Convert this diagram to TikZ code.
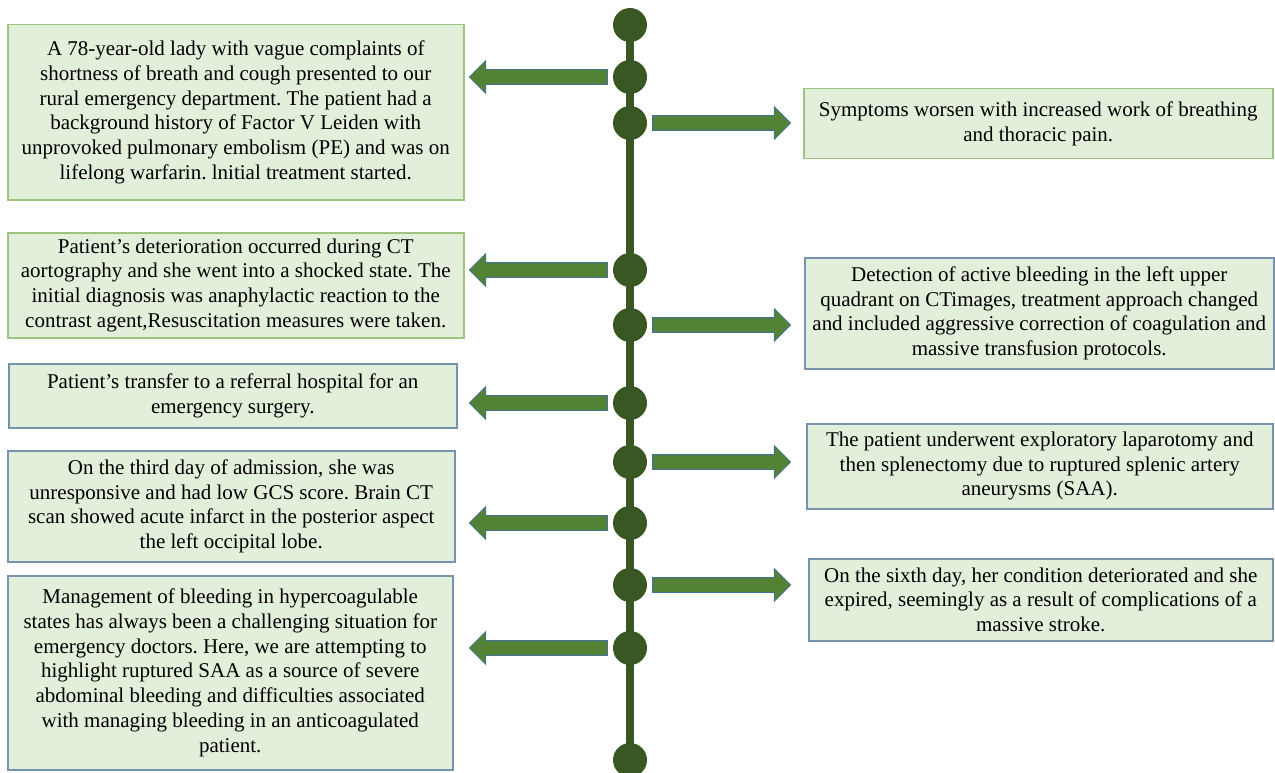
\documentclass[tikz,border=0pt]{standalone}
\usepackage{fontspec}
\setmainfont{Liberation Serif}
\usetikzlibrary{positioning}
\usetikzlibrary{calc}
\usetikzlibrary{shapes.arrows}
\definecolor{tldark}{HTML}{385723}
\definecolor{arrfill}{HTML}{548235}
\definecolor{arrline}{HTML}{41719C}
\definecolor{boxfill}{HTML}{E2EFDA}
\definecolor{boxgreen}{HTML}{9CC47F}
\definecolor{boxblue}{HTML}{7A93AD}
\frenchspacing

\begin{document}
\begin{tikzpicture}[x=1pt,y=-1pt,align=center,
	dot/.style={circle,fill=tldark,minimum size=34pt,inner sep=0pt},
	evbox/.style={rectangle,draw=boxblue,line width=1.5pt,fill=boxfill,inner sep=0pt,anchor=north west,font=\fontsize{21}{24.7}\selectfont},
	blockarrow/.style={single arrow,fill=arrfill,draw=arrline,line width=.8pt,minimum height=138pt,inner xsep=0pt,inner ysep=7pt,single arrow head extend=9pt,anchor=tail}]
	\useasboundingbox (0,0) rectangle (1275,773);
	\foreach \i/\y in {1/25,2/77,3/123,4/270,5/325,6/403,7/462,8/523,9/585,10/648,11/760}
		\node[dot] (d\i) at (630,\y) {};
	\draw[tldark,line width=8pt] (d1.center) -- (d11.center);
	\node[evbox,draw=boxgreen,minimum width=456pt,minimum height=175pt] (b1) at (7,24) {A 78-year-old lady with vague complaints of\\shortness of breath and cough presented to our\\rural emergency department. The patient had a\\background history of Factor V Leiden with\\unprovoked pulmonary embolism (PE) and was on\\lifelong warfarin. lnitial treatment started.};
	\node[evbox,draw=boxgreen,minimum width=456pt,minimum height=105pt] (b2) at (7,232) {Patient’s deterioration occurred during CT\\aortography and she went into a shocked state. The\\initial diagnosis was anaphylactic reaction to the\\contrast agent,Resuscitation measures were taken.};
	\node[evbox,minimum width=448pt,minimum height=64pt] (b3) at (8,363) {Patient’s transfer to a referral hospital for an\\emergency surgery.};
	\node[evbox,minimum width=447pt,minimum height=111pt] (b4) at (7,450) {On the third day of admission, she was\\unresponsive and had low GCS score. Brain CT\\scan showed acute infarct in the posterior aspect\\the left occipital lobe.};
	\node[evbox,minimum width=445pt,minimum height=194pt] (b5) at (7,575) {Management of bleeding in hypercoagulable\\states has always been a challenging situation for\\emergency doctors. Here, we are attempting to\\highlight ruptured SAA as a source of severe\\abdominal bleeding and difficulties associated\\with managing bleeding in an anticoagulated\\patient.};
	\node[evbox,draw=boxgreen,minimum width=469pt,minimum height=70pt] (r1) at (803,88) {Symptoms worsen with increased work of breathing\\and thoracic pain.};
	\node[evbox,minimum width=469pt,minimum height=111pt] (r2) at (804,257) {Detection of active bleeding in the left upper\\quadrant on CTimages, treatment approach changed\\and included aggressive correction of coagulation and\\massive transfusion protocols.};
	\node[evbox,minimum width=466pt,minimum height=85pt] (r3) at (806,423) {The patient underwent exploratory laparotomy and\\then splenectomy due to ruptured splenic artery\\aneurysms (SAA).};
	\node[evbox,minimum width=464pt,minimum height=82pt] (r4) at (808,558) {On the sixth day, her condition deteriorated and she\\expired, seemingly as a result of complications of a\\massive stroke.};
	\foreach \i in {2,4,6,8,10}
		\node[blockarrow,shape border rotate=180] (a\i) at ([xshift=-5pt]d\i.west) {};
	\foreach \i in {3,5,7,9}
		\node[blockarrow] (a\i) at ([xshift=5pt]d\i.east) {};
\end{tikzpicture}
\end{document}
